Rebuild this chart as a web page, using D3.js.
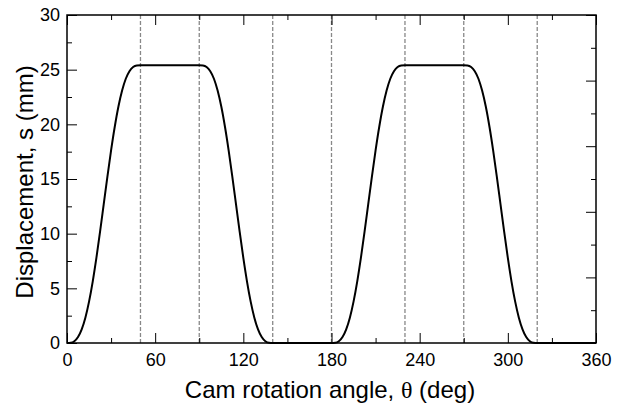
<!DOCTYPE html>
<html><head><meta charset="utf-8">
<script src="https://cdn.jsdelivr.net/npm/d3@7"></script>
<style>body{margin:0;background:#fff}text{font-family:"Liberation Sans",Arial,sans-serif;fill:#000}</style>
</head><body><svg id="c" width="627" height="408"></svg>
<script>
// Cam rotation angle (deg)
const theta = [
  0,2.5,5,7.5,10,12.5,15,17.5,20,22.5,25,27.5,30,32.5,35,37.5,40,42.5,45,47.5,50,
  90,92.5,95,97.5,100,102.5,105,107.5,110,112.5,115,117.5,120,122.5,125,127.5,130,132.5,135,137.5,140,
  180,182.5,185,187.5,190,192.5,195,197.5,200,202.5,205,207.5,210,212.5,215,217.5,220,222.5,225,227.5,230,
  270,272.5,275,277.5,280,282.5,285,287.5,290,292.5,295,297.5,300,302.5,305,307.5,310,312.5,315,317.5,320,
  360
];
// Displacement s (mm)
const disp = [
  0,0.02,0.16,0.54,1.24,2.31,3.78,5.62,7.78,10.18,12.70,15.22,17.62,19.78,21.63,23.09,24.17,24.86,25.24,25.38,25.40,
  25.40,25.38,25.24,24.86,24.17,23.09,21.63,19.78,17.62,15.22,12.70,10.18,7.78,5.62,3.78,2.31,1.24,0.54,0.16,0.02,0,
  0,0.02,0.16,0.54,1.24,2.31,3.78,5.62,7.78,10.18,12.70,15.22,17.62,19.78,21.63,23.09,24.17,24.86,25.24,25.38,25.40,
  25.40,25.38,25.24,24.86,24.17,23.09,21.63,19.78,17.62,15.22,12.70,10.18,7.78,5.62,3.78,2.31,1.24,0.54,0.16,0.02,0,
  0
];
const segmentBounds = [50,90,140,180,230,270,320];
const xTicks = [0,60,120,180,240,300,360];
const xMinor = [30,90,150,210,270,330];
const yTicks = [0,5,10,15,20,25,30];
const yMinor = [2.5,7.5,12.5,17.5,22.5,27.5];
const yRightMajor = [0,6,12,18,24,30];
const yRightMinor = [3,9,15,21,27];

const L=67, R=596, T=15, B=343;
const svg = d3.select("#c");
const x = d3.scaleLinear().domain([0,360]).range([L,R]);
const y = d3.scaleLinear().domain([0,30]).range([B,T]);

function clean(g){ g.select(".domain").remove(); g.selectAll("line").attr("stroke","#000").attr("stroke-width",1); }

// dashed segment boundaries
svg.append("g").selectAll("line").data(segmentBounds).join("line")
  .attr("x1",d=>x(d)).attr("x2",d=>x(d)).attr("y1",T).attr("y2",B)
  .attr("stroke","#888").attr("stroke-width",1.3).attr("stroke-dasharray","4,2");

// bottom
svg.append("g").attr("transform",`translate(0,${B})`)
  .call(d3.axisBottom(x).tickValues(xTicks).tickSize(-10).tickPadding(10).tickFormat(d3.format("d")))
  .call(clean).call(g=>g.selectAll("text").attr("font-size",18).attr("font-family","Liberation Sans, Arial"));
svg.append("g").attr("transform",`translate(0,${B})`)
  .call(d3.axisBottom(x).tickValues(xMinor).tickSize(-5).tickFormat("")).call(clean);
// top
svg.append("g").attr("transform",`translate(0,${T})`)
  .call(d3.axisTop(x).tickValues(xTicks).tickSize(-10).tickFormat("")).call(clean);
svg.append("g").attr("transform",`translate(0,${T})`)
  .call(d3.axisTop(x).tickValues(xMinor).tickSize(-5).tickFormat("")).call(clean);
// left
svg.append("g").attr("transform",`translate(${L},0)`)
  .call(d3.axisLeft(y).tickValues(yTicks).tickSize(-10).tickPadding(7).tickFormat(d3.format("d")))
  .call(clean).call(g=>g.selectAll("text").attr("font-size",18).attr("font-family","Liberation Sans, Arial"));
svg.append("g").attr("transform",`translate(${L},0)`)
  .call(d3.axisLeft(y).tickValues(yMinor).tickSize(-5).tickFormat("")).call(clean);
// right
svg.append("g").attr("transform",`translate(${R},0)`)
  .call(d3.axisRight(y).tickValues(yRightMajor).tickSize(-10).tickFormat("")).call(clean);
svg.append("g").attr("transform",`translate(${R},0)`)
  .call(d3.axisRight(y).tickValues(yRightMinor).tickSize(-5).tickFormat("")).call(clean);

// frame
svg.append("rect").attr("x",L).attr("y",T).attr("width",R-L).attr("height",B-T)
  .attr("fill","none").attr("stroke","#000").attr("stroke-width",1.5);

// curve
const pts = theta.map((t,i)=>[t,disp[i]]);
svg.append("path").datum(pts)
  .attr("d", d3.line().x(d=>x(d[0])).y(d=>y(d[1])).curve(d3.curveMonotoneX))
  .attr("fill","none").attr("stroke","#000").attr("stroke-width",2);

// titles
const xt = svg.append("text").attr("x",330).attr("y",398).attr("text-anchor","middle").attr("font-size",24);
xt.append("tspan").text("Cam rotation angle, ");
xt.append("tspan").attr("font-family","Liberation Serif, serif").text("θ");
xt.append("tspan").text(" (deg)");
svg.append("text").attr("transform","translate(33,182) rotate(-90)").attr("text-anchor","middle")
  .attr("font-size",24).text("Displacement, s (mm)");
</script></body></html>
